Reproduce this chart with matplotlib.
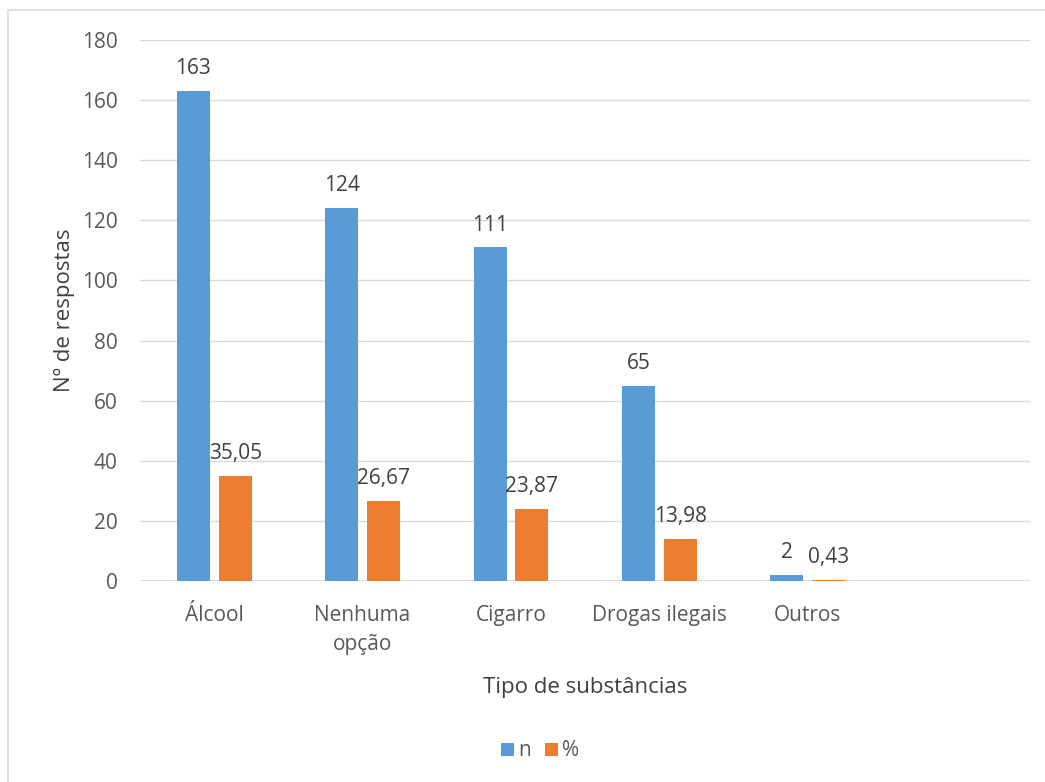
import numpy as np
import matplotlib.pyplot as plt
from matplotlib.patches import Rectangle

# respostas por tipo de substância
categorias = ['Álcool', 'Nenhuma\nopção', 'Cigarro', 'Drogas ilegais', 'Outros', '']
n = [163, 124, 111, 65, 2]
pct = [35.05, 26.67, 23.87, 13.98, 0.43]

azul = '#5B9BD5'
laranja = '#ED7D31'
texto = '#595959'
grade = '#D9D9D9'

plt.rcParams['font.family'] = ['Open Sans', 'DejaVu Sans']

fig = plt.figure(figsize=(10.45, 7.82), dpi=100)
ax = fig.add_axes([0.134, 0.257, 0.852, 0.692])

# moldura do gráfico
fig.patches.append(Rectangle((8 / 1045, -0.1), 1.2, 1 - 10 / 782 + 0.1,
                             transform=fig.transFigure, fill=False,
                             edgecolor=grade, linewidth=1.2))

x = np.arange(len(n))
w = 0.223
off = 0.141
b1 = ax.bar(x - off, n, w, color=azul, label='n', zorder=3)
b2 = ax.bar(x + off, pct, w, color=laranja, label='%', zorder=3)

def fmt(v):
    if float(v).is_integer():
        return str(int(v))
    return f'{v:.2f}'.replace('.', ',')

for bars, vals in ((b1, n), (b2, pct)):
    for b, v in zip(bars, vals):
        ax.annotate(fmt(v), (b.get_x() + b.get_width() / 2, v),
                    xytext=(0, 8.5), textcoords='offset points',
                    ha='center', va='bottom', fontsize=15, color='#404040')

ax.set_xlim(-0.5, len(categorias) - 0.5)
ax.set_ylim(0, 180)
ax.set_yticks(range(0, 181, 20))
ax.set_xticks(np.arange(len(categorias)))
ax.set_xticklabels(categorias, linespacing=1.5)
ax.tick_params(axis='both', length=0, labelsize=15, labelcolor=texto)
ax.tick_params(axis='y', pad=16)
ax.tick_params(axis='x', pad=17)
ax.yaxis.grid(True, color=grade, linewidth=1, zorder=0)
ax.set_axisbelow(True)
for s in ax.spines.values():
    s.set_visible(False)
ax.axhline(0, color=grade, linewidth=1.2, zorder=2)

ax.set_ylabel('Nº de respostas', fontsize=16, color='#404040', labelpad=5)
ax.set_xlabel('Tipo de substâncias', fontsize=16, color='#404040', labelpad=16)

fig.legend(handles=[b1, b2], labels=['n', '%'], loc='center',
           bbox_to_anchor=(540 / 1045, 1 - 751 / 782), ncol=2, frameon=False,
           fontsize=15, labelcolor=texto, handlelength=0.6, handleheight=0.6,
           handletextpad=0.2, columnspacing=0.7)

fig.savefig('out.png', dpi=100)
